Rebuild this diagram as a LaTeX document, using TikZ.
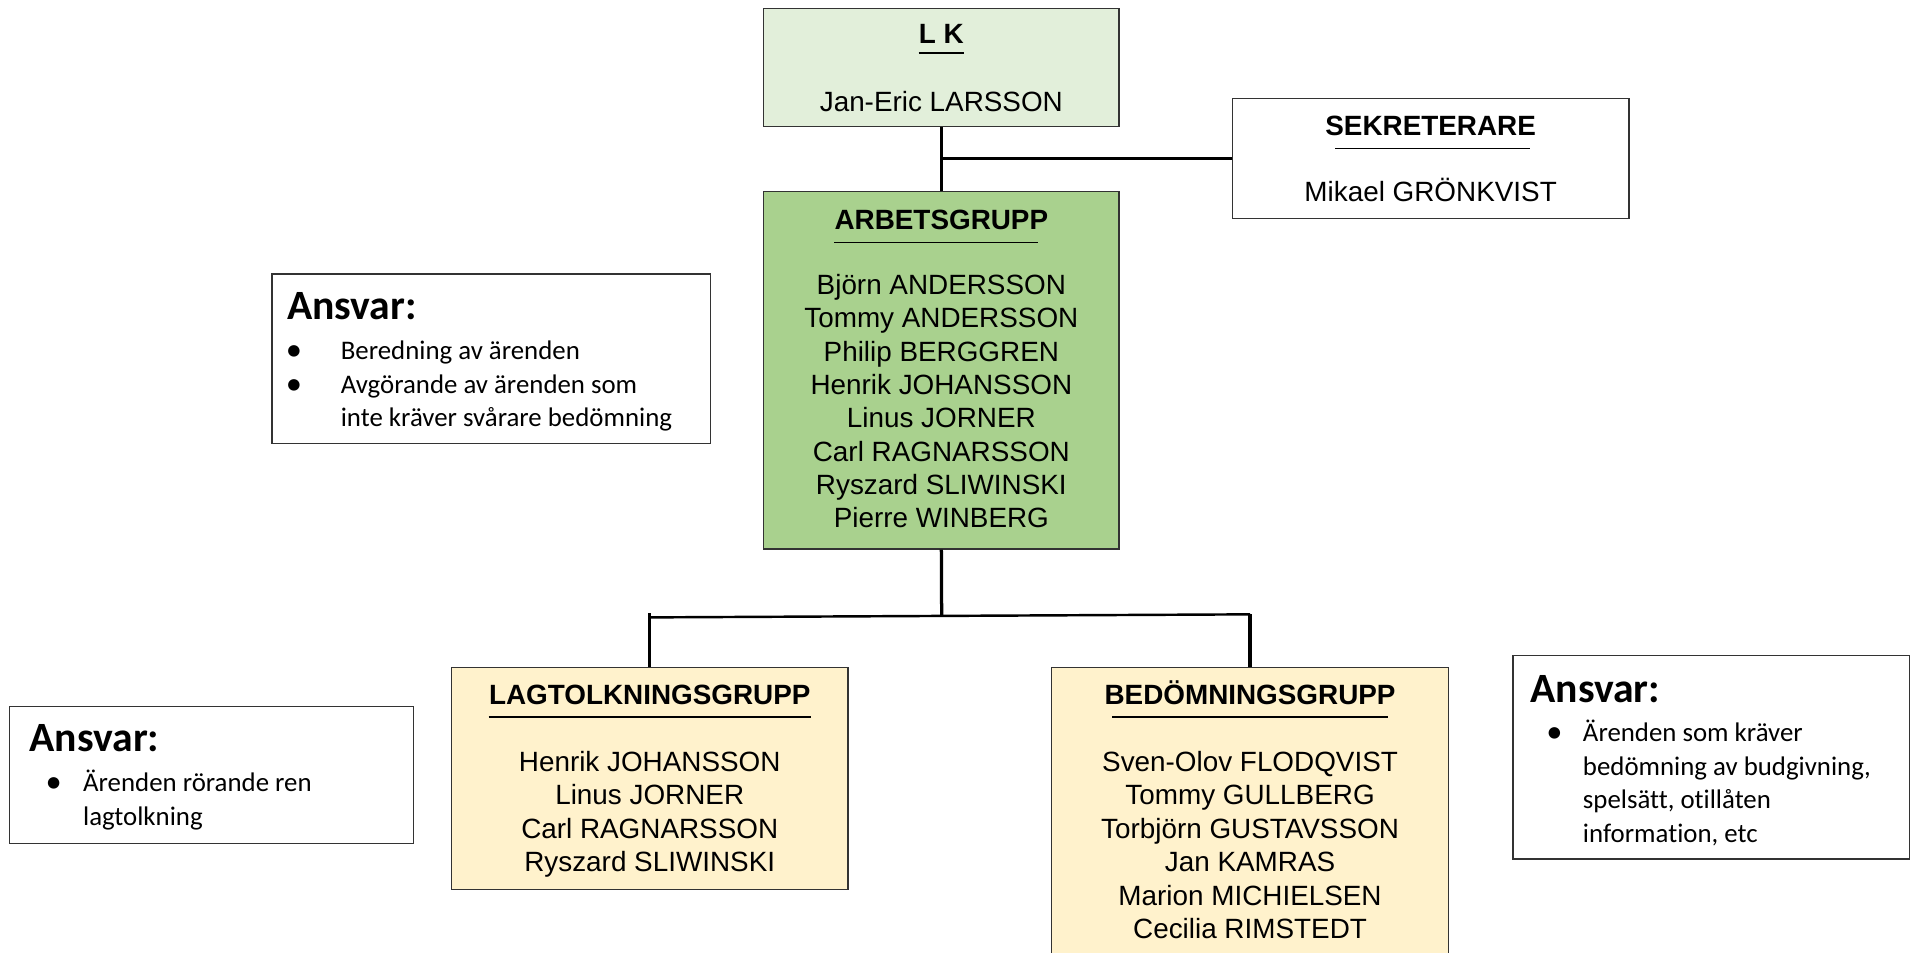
\documentclass[tikz,border=0pt]{standalone}
\usepackage{fontspec}
\setmainfont{Liberation Sans}
\newfontfamily\ansvarfont[Ligatures={NoCommon,NoContextual}]{Carlito}
\usetikzlibrary{positioning,calc}
\definecolor{lkgreen}{HTML}{E2EFDA}
\definecolor{arbgreen}{HTML}{A9D18E}
\definecolor{groupyellow}{HTML}{FFF2CC}
\newcommand{\bul}[1]{\makebox[#1][l]{\raisebox{-0.5pt}{\fontsize{16}{16.5}\selectfont\textbullet}}}

\begin{document}
\begin{tikzpicture}[x=0.6pt, y=-0.6pt,
                    every group/.style = {rectangle, draw=black!80, line width=0.6pt, inner sep=0pt},
                    group/.style = {every group, minimum width=195pt},
                    ansvar box/.style = {every group, fill=white},
                    title/.style = {font=\fontsize{13.7}{16.4}\selectfont\bfseries, inner sep=0pt, anchor=base},
                    members/.style = {font=\fontsize{13.7}{16.4}\selectfont, align=center, inner sep=0pt},
                    rule/.style = {line width=0.8pt},
                    ansvar head/.style = {font=\ansvarfont\fontsize{20.5}{24}\selectfont\bfseries, inner sep=0pt, anchor=base west},
                    ansvar text/.style = {font=\ansvarfont\fontsize{13.2}{16.5}\selectfont, align=left, inner sep=0pt, anchor=north west},
                    link/.style = {line width=1.6pt} ]

                \path[use as bounding box, clip] (0,0) rectangle (1567,781);

                % top
                \node [every group, fill=lkgreen, minimum width=174.6pt, minimum height=58.2pt] (lk) at (771.5,55.5) {};
                \node [title] (lkT) at (771.5,36) {L K};
                \draw [rule] ([yshift=-4.5pt]lkT.base west) -- ([yshift=-4.5pt]lkT.base east);
                \node [members, anchor=base] (lkN) at (771.5,91) {Jan-Eric LARSSON};

                \node [group, fill=white, minimum height=58.8pt] (sek) at (1172.5,130) {};
                \node [title] (sekT) at (1172.5,111) {SEKRETERARE};
                \draw [rule] ([xshift=5pt,yshift=-6.5pt]sekT.base west) -- ([xshift=-3pt,yshift=-6.5pt]sekT.base east);
                \node [members, anchor=base] (sekN) at (1172.5,165) {Mikael GRÖNKVIST};

                \node [every group, fill=arbgreen, minimum width=174.6pt, minimum height=175.8pt] (arb) at (771.5,303.5) {};
                \node [title] (arbT) at (771.5,188) {ARBETSGRUPP};
                \draw [rule] ([yshift=-6.5pt]arbT.base west) -- ([xshift=-5pt,yshift=-6.5pt]arbT.base east);
                \node [members, anchor=north] (arbN) at (771.5,224.5) {Björn ANDERSSON\\Tommy ANDERSSON\\Philip BERGGREN\\Henrik JOHANSSON\\Linus JORNER\\Carl RAGNARSSON\\Ryszard SLIWINSKI\\Pierre WINBERG};

                % groups below
                \node [group, fill=groupyellow, minimum height=109.2pt] (lag) at (532.5,638) {};
                \node [title] (lagT) at (532.5,577) {LAGTOLKNINGSGRUPP};
                \draw [rule] ([yshift=-6.5pt]lagT.base west) -- ([yshift=-6.5pt]lagT.base east);
                \node [members, anchor=north] (lagN) at (532.5,615.5) {Henrik JOHANSSON\\Linus JORNER\\Carl RAGNARSSON\\Ryszard SLIWINSKI};

                \node [group, fill=groupyellow, minimum height=151.8pt] (bed) at (1024.5,673.5) {};
                \node [title] (bedT) at (1024.5,577) {BEDÖMNINGSGRUPP};
                \draw [rule] ([xshift=4pt,yshift=-6.5pt]bedT.base west) -- ([xshift=-4pt,yshift=-6.5pt]bedT.base east);
                \node [members, anchor=north] (bedN) at (1024.5,615.5) {Sven-Olov FLODQVIST\\Tommy GULLBERG\\Torbjörn GUSTAVSSON\\Jan KAMRAS\\Marion MICHIELSEN\\Cecilia RIMSTEDT};

                % ansvar
                \node [ansvar box, minimum width=215.4pt, minimum height=83.4pt] (ansArb) at (402.5,294) {};
                \node [ansvar head] (ansArbH) at (235,262) {Ansvar:};
                \node [ansvar text] (ansArbT) at (234,279) {\bul{27pt}Beredning av ärenden\\\bul{27pt}Avgörande av ärenden som\\\hspace*{27pt}inte kräver svårare bedömning};

                \node [ansvar box, minimum width=198.6pt, minimum height=67.2pt] (ansLag) at (173.5,635) {};
                \node [ansvar head] (ansLagH) at (24,616) {Ansvar:};
                \node [ansvar text] (ansLagT) at (37,631) {\bul{18.5pt}Ärenden rörande ren\\\hspace*{18.5pt}lagtolkning};

                \node [ansvar box, minimum width=195pt, minimum height=100.2pt] (ansBed) at (1402.5,620.5) {};
                \node [ansvar head] (ansBedH) at (1254,576) {Ansvar:};
                \node [ansvar text] (ansBedT) at (1267,590) {\bul{18pt}Ärenden som kräver\\\hspace*{18pt}bedömning av budgivning,\\\hspace*{18pt}spelsätt, otillåten\\\hspace*{18pt}information, etc};

                % links
                \coordinate (barL) at (532.5,506);
                \coordinate (barR) at (1024.5,503.5);
                \draw [link] (lk.south) -- (arb.north);
                \draw [link] (lk.south |- sek.west) -- (sek.west);
                \draw [link] (arb.south) -- ($(barL)!(arb.south)!(barR)$);
                \draw [line width=1.2pt] (barL) -- (barR);
                \draw [link] ([yshift=2pt]barL) -- (lag.north);
                \draw [link] (barR) -- (bed.north);

            \end{tikzpicture}
\end{document}
